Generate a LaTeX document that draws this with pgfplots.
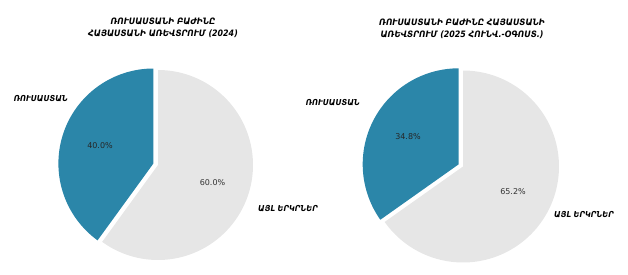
\documentclass[border=0pt]{standalone}
\usepackage{pgfplots}
\pgfplotsset{compat=1.18}
\usepackage{fontspec}
\setmainfont{DejaVu Sans}
\IfFontExistsTF{DejaVu Sans Condensed}
  {\newfontfamily\armb{DejaVu Sans Condensed}}
  {\newfontfamily\armb{DejaVu Sans}[FakeStretch=0.85]}
\definecolor{rublue}{HTML}{2B86A9}
\definecolor{othgrey}{HTML}{E6E6E6}
% shares (%) : Russia, other countries
\def\ruA{40.0}\def\otA{60.0}
\def\ruB{34.8}\def\otB{65.2}
\pgfmathsetmacro{\endA}{90+3.6*\ruA}
\pgfmathsetmacro{\endB}{90+3.6*\ruB}
\begin{document}
\begin{tikzpicture}
\begin{axis}[at={(0,0)}, anchor=south west, width=628pt, height=274pt, scale only axis,
  xmin=0, xmax=628, ymin=0, ymax=274, hide axis, clip=false]
% left pie (2024)
\addplot[draw=none, fill=othgrey, domain=\endA:450, samples=120, variable=\t]
  ({158+95*cos(\t)},{109+95*sin(\t)}) -- (axis cs:158,109) -- cycle;
\addplot[draw=none, fill=rublue, domain=90:\endA, samples=90, variable=\t]
  ({153.4+95*cos(\t)},{110.5+95*sin(\t)}) -- (axis cs:153.4,110.5) -- cycle;
% right pie (2025)
\addplot[draw=none, fill=othgrey, domain=\endB:450, samples=120, variable=\t]
  ({463+96*cos(\t)},{107.5+96*sin(\t)}) -- (axis cs:463,107.5) -- cycle;
\addplot[draw=none, fill=rublue, domain=90:\endB, samples=90, variable=\t]
  ({458.7+96*cos(\t)},{109.7+96*sin(\t)}) -- (axis cs:458.7,109.7) -- cycle;
% percentages
\node[font=\fontsize{8}{9}\selectfont, text=black!85] at (axis cs:100,128) {\ruA\%};
\node[font=\fontsize{8}{9}\selectfont, text=black!80] at (axis cs:212.5,91) {\otA\%};
\node[font=\fontsize{8}{9}\selectfont, text=black!85] at (axis cs:408,137) {\ruB\%};
\node[font=\fontsize{8}{9}\selectfont, text=black!80] at (axis cs:513,82) {\otB\%};
% labels
\node[anchor=east, inner sep=0pt, font=\armb\fontsize{8.2}{9}\selectfont\bfseries\itshape] at (axis cs:68,175) {ՌՈՒՍԱՍՏԱՆ};
\node[anchor=west, inner sep=0pt, font=\armb\fontsize{8.2}{9}\selectfont\bfseries\itshape] at (axis cs:258,65) {ԱՅԼ ԵՐԿՐՆԵՐ};
\node[anchor=east, inner sep=0pt, font=\armb\fontsize{8.2}{9}\selectfont\bfseries\itshape] at (axis cs:360,171) {ՌՈՒՍԱՍՏԱՆ};
\node[anchor=west, inner sep=0pt, font=\armb\fontsize{8.2}{9}\selectfont\bfseries\itshape] at (axis cs:554,59) {ԱՅԼ ԵՐԿՐՆԵՐ};
% titles
\node[align=center, inner sep=0pt, font=\armb\fontsize{8.8}{12}\selectfont\bfseries\itshape] at (axis cs:163,246) {ՌՈՒՍԱՍՏԱՆԻ ԲԱԺԻՆԸ\\ՀԱՅԱՍՏԱՆԻ ԱՌԵՎՏՐՈՒՄ (2024)};
\node[align=center, inner sep=0pt, font=\armb\fontsize{8.8}{12}\selectfont\bfseries\itshape] at (axis cs:462,245) {ՌՈՒՍԱՍՏԱՆԻ ԲԱԺԻՆԸ ՀԱՅԱՍՏԱՆԻ\\ԱՌԵՎՏՐՈՒՄ (2025 ՀՈՒՆՎ.-ՕԳՈՍՏ.)};
\end{axis}
\pgfresetboundingbox
\path (0,0) rectangle (628pt,274pt);
\end{tikzpicture}
\end{document}
